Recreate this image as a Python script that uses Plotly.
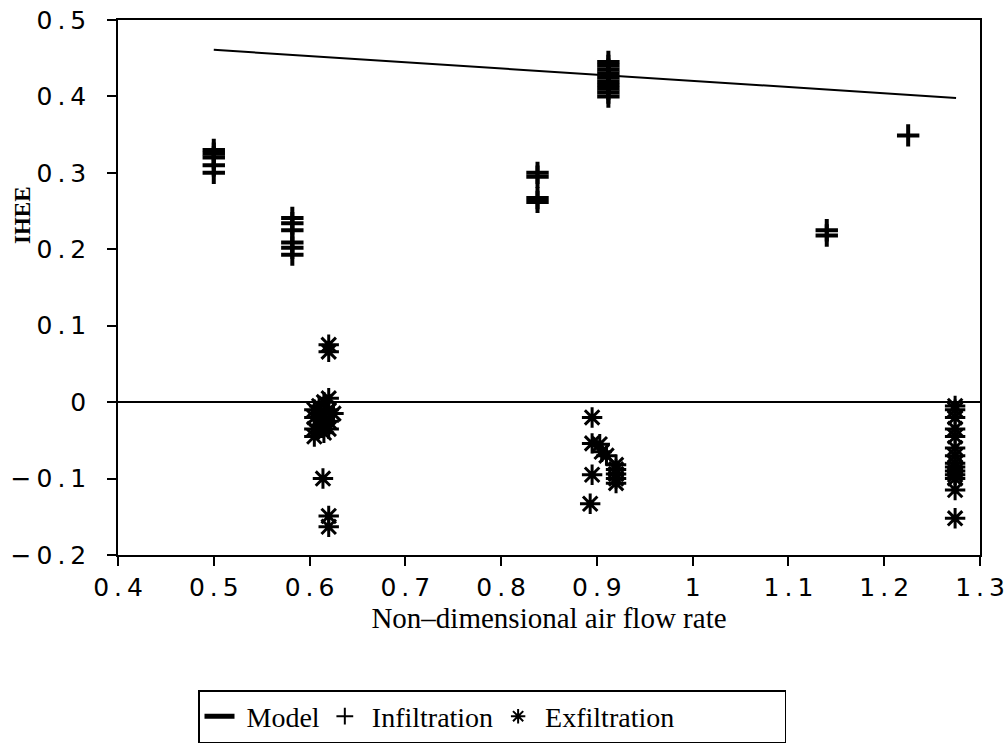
import plotly.graph_objects as go

# Model line
model_x = [0.5, 1.275]
model_y = [0.461, 0.398]

# Infiltration points
inf_x = [0.5, 0.5, 0.5, 0.5, 0.5,
         0.582, 0.582, 0.582, 0.582, 0.582, 0.582,
         0.838, 0.838, 0.838, 0.838,
         0.912, 0.912, 0.912, 0.912, 0.912, 0.912, 0.912, 0.912, 0.912, 0.912,
         1.14, 1.14,
         1.225]
inf_y = [0.33, 0.325, 0.32, 0.31, 0.30,
         0.241, 0.234, 0.225, 0.209, 0.202, 0.193,
         0.30, 0.295, 0.267, 0.262,
         0.445, 0.44, 0.435, 0.43, 0.425, 0.42, 0.415, 0.41, 0.405, 0.40,
         0.225, 0.218,
         0.349]

# Exfiltration points
exf_x = [0.62, 0.62,
         0.62, 0.615, 0.61, 0.605, 0.62, 0.61, 0.625, 0.605, 0.615, 0.62, 0.61, 0.605, 0.615, 0.605, 0.62,
         0.614, 0.62, 0.62,
         0.895, 0.895, 0.903, 0.905, 0.91, 0.895, 0.92, 0.92, 0.92, 0.92, 0.92, 0.893,
         1.274, 1.274, 1.274, 1.274, 1.274, 1.274, 1.274, 1.274, 1.274, 1.274, 1.274, 1.274, 1.274, 1.274]
exf_y = [0.075, 0.066,
         0.005, 0.0, -0.005, -0.01, -0.01, -0.015, -0.015, -0.02, -0.02, -0.025, -0.03, -0.035, -0.04, -0.045, -0.035,
         -0.1, -0.149, -0.163,
         -0.02, -0.054, -0.055, -0.065, -0.07, -0.095, -0.082, -0.088, -0.094, -0.1, -0.106, -0.133,
         -0.005, -0.01, -0.02, -0.035, -0.045, -0.06, -0.07, -0.08, -0.085, -0.09, -0.095, -0.1, -0.115, -0.152]

x_ticks = [0.4, 0.5, 0.6, 0.7, 0.8, 0.9, 1.0, 1.1, 1.2, 1.3]
y_ticks = [-0.2, -0.1, 0, 0.1, 0.2, 0.3, 0.4, 0.5]

serif = "Liberation Serif"
sans = "DejaVu Sans"
TS = "\u2009"  # thin space to mimic the wide tick-label lettering
NB = "\u00a0"


def spaced(s):
    return TS.join(list(s))


fig = go.Figure()
fig.add_trace(go.Scatter(x=model_x, y=model_y, mode="lines", name=NB + "Model",
                         line=dict(color="black", width=2)))
fig.add_trace(go.Scatter(x=inf_x, y=inf_y, mode="markers", name=NB + "Infiltration",
                         marker=dict(symbol="cross-thin", size=16, color="black",
                                     line=dict(color="black", width=4))))
fig.add_trace(go.Scatter(x=exf_x, y=exf_y, mode="markers", name=NB + "Exfiltration" + NB * 15,
                         marker=dict(symbol="asterisk", size=17, color="black",
                                     line=dict(color="black", width=3))))

PL, PR, PT, PB = 118, 980, 20, 555
W, H = 1006, 752
pw, ph = PR - PL, PB - PT

fig.update_layout(
    width=W, height=H,
    margin=dict(l=PL, r=W - PR, t=PT, b=H - PB, autoexpand=False),
    plot_bgcolor="white", paper_bgcolor="white",
    showlegend=True,
    legend=dict(orientation="h", x=(198 - PL) / pw, y=(PB - 690) / ph,
                xanchor="left", yanchor="top",
                bordercolor="black", borderwidth=1.5,
                font=dict(family=serif, size=28, color="black"),
                itemsizing="constant"),
    annotations=[dict(text="<b>IHEE</b>", textangle=-90,
                      x=(22 - PL) / pw, y=(PB - 215) / ph,
                      xref="paper", yref="paper", showarrow=False,
                      xanchor="center", yanchor="middle",
                      font=dict(family=serif, size=23, color="black"))],
)

fig.update_xaxes(range=[0.4, 1.3], tickvals=x_ticks,
                 ticktext=[spaced(f"{v:g}") for v in x_ticks],
                 showline=True, linecolor="black", linewidth=1.5, mirror=True,
                 ticks="outside", ticklen=9, tickwidth=1.5, tickcolor="black",
                 showgrid=False, zeroline=False, automargin=False,
                 tickfont=dict(family=sans, size=25, color="black"),
                 title=dict(text="Non\u2013dimensional air flow rate", standoff=0,
                            font=dict(family=serif, size=29, color="black")))
fig.update_yaxes(range=[-0.2, 0.5], tickvals=y_ticks,
                 ticktext=[spaced(("\u2212" if v < 0 else "") + f"{abs(v):g}") for v in y_ticks],
                 showline=True, linecolor="black", linewidth=1.5, mirror=True,
                 ticks="outside", ticklen=9, tickwidth=1.5, tickcolor="black",
                 ticklabelstandoff=16, automargin=False,
                 showgrid=False, zeroline=True, zerolinecolor="black", zerolinewidth=2,
                 tickfont=dict(family=sans, size=25, color="black"))

fig.write_html("out.html", config={"displayModeBar": False},
               post_script="document.body.style.margin='0';")
